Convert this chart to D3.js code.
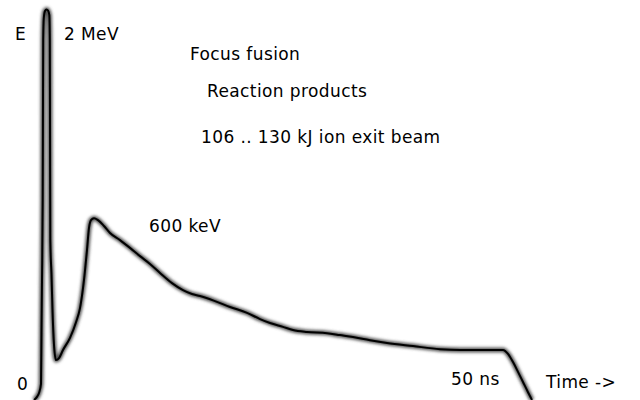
<!DOCTYPE html>
<html lang="en">
<head>
    <meta charset="UTF-8">
    <title>Focus fusion reaction products</title>
    <script src="https://cdn.jsdelivr.net/npm/d3@7"></script>
    <style>
        body { margin: 0; background: #fff; }
        text { font-family: "DejaVu Sans", sans-serif; font-size: 17px; letter-spacing: 0.4px; fill: #000; }
    </style>
</head>
<body>
<div id="visual"></div>
<script>
// time (arbitrary units, 0..100) and energy (arbitrary units, spike top = 100)
var time = [0.6, 1.2, 1.6, 2, 2.1, 2.2, 2.34, 2.4, 2.44, 2.56, 2.8, 3.1, 3.4, 3.66, 3.76, 3.8, 3.86, 4.1, 4.3, 4.6, 5, 5.6,
    6.4, 7.8, 9, 9.8, 10.6, 11.2, 11.6, 12, 12.6, 13.4, 14.6, 15.8, 17.8, 19.8, 21.8, 23.8, 25.8,
    28.2, 30.4, 32.2, 33.8, 36.8, 39.8, 43.2, 45.8, 47.8, 50.4, 52.4, 55.2, 59.2, 61.8, 64.4, 67.8,
    71.2, 76.4, 81.8, 85.8, 89.8, 94.4, 95.4, 96.4, 97.4, 98.4, 99.4, 100.2];
var energy = [0, 0.8, 1.8, 4.1, 17.9, 30.7, 51.2, 76.7, 92.1, 97.7, 99.5, 99.9, 99.6, 98.5, 92.1, 71.6, 40.9, 32, 23, 14.1, 10.2, 10.7,
    12.8, 15.9, 19.9, 23.5, 30.7, 38.4, 44, 46, 46.5, 46, 44.5, 42.7, 40.9, 38.9, 36.8, 34.8, 32.5,
    29.9, 28.1, 27.1, 26.6, 25.3, 23.8, 22.3, 20.7, 19.7, 18.7, 17.9, 17.4, 17.1, 16.6, 16.1, 15.3,
    14.6, 13.8, 13, 12.8, 12.8, 12.8, 11.8, 9.7, 7.2, 4.6, 2, 0];

// free text labels: [text, time, energy]
var labels = [
    ["E", -3.2, 92],
    ["2 MeV", 6.6, 92],
    ["Focus fusion", 31.8, 86.9],
    ["Reaction products", 35.2, 77.5],
    ["106 .. 130 kJ ion exit beam", 34, 65.8],
    ["600 keV", 23.6, 43],
    ["50 ns", 84, 3.9],
    ["Time ->", 103, 3.1],
    ["0", -2.8, 2.6]
];

var width = 640, height = 400;

var x = d3.scaleLinear().domain([0, 100]).range([31, 531]);
var y = d3.scaleLinear().domain([0, 100]).range([400, 9]);

var svg = d3.select("#visual").append("svg")
    .attr("width", width)
    .attr("height", height);

var defs = svg.append("defs");
defs.append("filter")
    .attr("id", "glow")
    .attr("x", "-10%").attr("y", "-10%")
    .attr("width", "120%").attr("height", "120%")
    .append("feGaussianBlur")
    .attr("stdDeviation", 1.6);

var pts = time.map(function (t, i) { return [t, energy[i]]; });

var line = d3.line()
    .x(function (d) { return x(d[0]); })
    .y(function (d) { return y(d[1]); })
    .curve(d3.curveMonotoneX);

// soft gray shadow under the stroke
svg.append("path")
    .attr("d", line(pts))
    .attr("fill", "none")
    .attr("stroke", "#555")
    .attr("stroke-width", 5)
    .attr("stroke-linejoin", "round")
    .attr("filter", "url(#glow)");

svg.append("path")
    .attr("d", line(pts))
    .attr("fill", "none")
    .attr("stroke", "#000")
    .attr("stroke-width", 2)
    .attr("stroke-linejoin", "round");

svg.selectAll("text.lbl")
    .data(labels)
    .enter().append("text")
    .attr("class", "lbl")
    .attr("x", function (d) { return x(d[1]); })
    .attr("y", function (d) { return y(d[2]); })
    .text(function (d) { return d[0]; });
</script>
</body>
</html>
